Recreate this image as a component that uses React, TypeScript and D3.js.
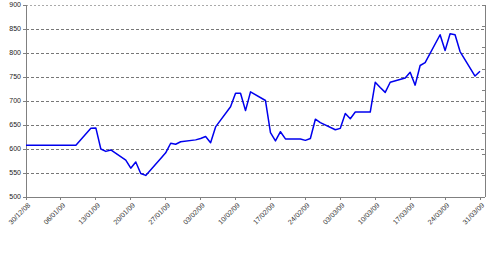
import * as d3 from 'd3';

const MARGIN = { top: 5, right: 4, bottom: 60, left: 26 };
const WIDTH = 489;
const HEIGHT = 257;

// trading days and closing values
const dates = [
  '30/12/08', '31/12/08', '02/01/09', '05/01/09', '06/01/09', '07/01/09', '08/01/09', '09/01/09',
  '12/01/09', '13/01/09', '14/01/09', '15/01/09', '16/01/09', '19/01/09', '20/01/09', '21/01/09',
  '22/01/09', '23/01/09', '26/01/09', '27/01/09', '28/01/09', '29/01/09', '30/01/09', '02/02/09',
  '03/02/09', '04/02/09', '05/02/09', '06/02/09', '09/02/09', '10/02/09', '11/02/09', '12/02/09',
  '13/02/09', '16/02/09', '17/02/09', '18/02/09', '19/02/09', '20/02/09', '23/02/09', '24/02/09',
  '25/02/09', '26/02/09', '27/02/09', '02/03/09', '03/03/09', '04/03/09', '05/03/09', '06/03/09',
  '09/03/09', '10/03/09', '11/03/09', '12/03/09', '13/03/09', '16/03/09', '17/03/09', '18/03/09',
  '19/03/09', '20/03/09', '23/03/09', '24/03/09', '25/03/09', '26/03/09', '27/03/09', '30/03/09',
  '31/03/09',
];
const values = [
  608, 608, 608, 608, 608, 608, 608, 608,
  643, 644, 600, 595, 598, 577, 560, 573,
  549, 545, 580, 592, 612, 610, 615, 619,
  622, 626, 613, 646, 688, 716, 716, 680,
  719, 701, 634, 617, 636, 621, 621, 618,
  622, 662, 655, 640, 643, 674, 663, 677,
  677, 739, 728, 718, 739, 748, 760, 733,
  774, 780, 838, 805, 840, 838, 803, 752,
  762,
];

const xTickLabels = [
  '30/12/08', '06/01/09', '13/01/09', '20/01/09', '27/01/09', '03/02/09', '10/02/09',
  '17/02/09', '24/02/09', '03/03/09', '10/03/09', '17/03/09', '24/03/09', '31/03/09',
];
const yTicks = [500, 550, 600, 650, 700, 750, 800, 850, 900];

const parse = d3.utcParse('%d/%m/%y');
const FONT = '"Liberation Sans", Arial, sans-serif';

export default function App() {
  const x0 = MARGIN.left;
  const x1 = WIDTH - MARGIN.right;
  const y0 = HEIGHT - MARGIN.bottom;
  const y1 = MARGIN.top;

  const xScale = d3.scaleUtc()
    .domain([parse('30/12/08') as Date, parse('01/04/09') as Date])
    .range([x0, x1]);
  const yScale = d3.scaleLinear().domain([500, 900]).range([y0, y1]);
  // secondary axis on the right, no labels
  const y2Scale = d3.scaleLinear().domain([0, 9]).range([y0, y1]);

  const points = dates.map((d, i) => ({ date: parse(d) as Date, value: values[i] }));
  const line = d3.line<{ date: Date; value: number }>()
    .x((d) => xScale(d.date))
    .y((d) => yScale(d.value));

  return (
    <svg width={WIDTH} height={HEIGHT} style={{ position: 'absolute', left: 0, top: 0, background: '#fff' }}>
      {/* grid */}
      {yTicks.filter((t) => t > 500).map((t) => (
        <line key={'g' + t} x1={x0} x2={x1} y1={yScale(t)} y2={yScale(t)}
          stroke={t === 900 ? '#aaa' : '#777'} strokeWidth={1}
          strokeDasharray={t === 900 ? '2,2' : '3,2'} shapeRendering="crispEdges" />
      ))}

      {/* left axis */}
      <line x1={x0} x2={x0} y1={y1} y2={y0} stroke="#808080" shapeRendering="crispEdges" />
      {yTicks.map((t) => (
        <g key={'y' + t}>
          <line x1={x0 - 3} x2={x0} y1={yScale(t)} y2={yScale(t)} stroke="#808080" shapeRendering="crispEdges" />
          <text x={x0 - 5} y={yScale(t)} dy="0.35em" textAnchor="end"
            fontFamily={FONT} fontSize={7} fill="#222">{t}</text>
        </g>
      ))}

      {/* right axis */}
      <line x1={x1} x2={x1} y1={y1} y2={y0} stroke="#808080" shapeRendering="crispEdges" />
      {y2Scale.ticks(9).map((t) => (
        <line key={'r' + t} x1={x1 - 3} x2={x1} y1={y2Scale(t)} y2={y2Scale(t)} stroke="#808080" shapeRendering="crispEdges" />
      ))}

      {/* bottom axis */}
      <line x1={x0} x2={x1} y1={y0} y2={y0} stroke="#808080" shapeRendering="crispEdges" />
      {xTickLabels.map((s) => {
        const tx = xScale(parse(s) as Date);
        return (
          <g key={'x' + s}>
            <line x1={tx} x2={tx} y1={y0} y2={y0 + 3} stroke="#808080" shapeRendering="crispEdges" />
            <text transform={`translate(${tx + 3},${y0 + 7}) rotate(-45)`} textAnchor="end"
              dy="0.35em" fontFamily={FONT} fontSize={7} fill="#333">{s}</text>
          </g>
        );
      })}

      {/* series */}
      <path d={line(points) || ''} fill="none" stroke="#0000ee" strokeWidth={1.5} strokeLinejoin="round" />
    </svg>
  );
}
